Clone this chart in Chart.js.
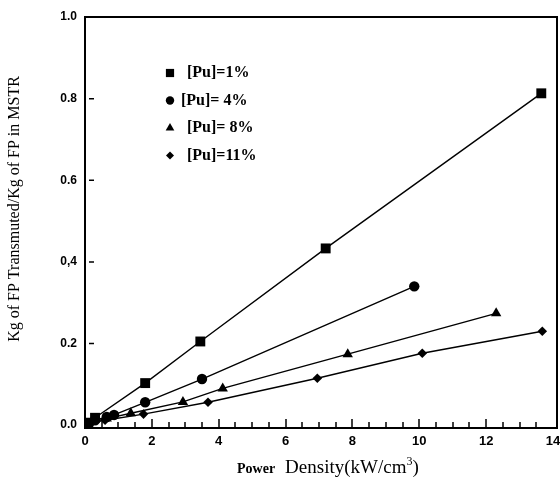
<!DOCTYPE html>
<html>
<head>
<meta charset="utf-8">
<script src="https://cdn.jsdelivr.net/npm/chart.js@4.4.1/dist/chart.umd.min.js"></script>
<style>
  html, body { margin: 0; padding: 0; background: #fff; }
  #wrap { width: 560px; height: 481px; }
</style>
</head>
<body>
<div id="wrap"><canvas id="myChart" width="560" height="481"></canvas></div>
<script>
// Series (x = power density kW/cm3, y = ratio)
const labels = ['[Pu]=1%', '[Pu]= 4%', '[Pu]= 8%', '[Pu]=11%'];
const pu1X = [0.1, 0.3, 1.8, 3.45, 7.2, 13.65];
const pu1Y = [0.006, 0.018, 0.103, 0.205, 0.433, 0.813];
const pu4X = [0.3, 0.65, 0.87, 1.8, 3.5, 9.85];
const pu4Y = [0.012, 0.02, 0.025, 0.056, 0.113, 0.34];
const pu8X = [0.2, 0.65, 1.37, 2.93, 4.12, 7.86, 12.3];
const pu8Y = [0.008, 0.016, 0.029, 0.057, 0.09, 0.174, 0.274];
const pu11X = [0.2, 0.6, 1.75, 3.68, 6.95, 10.09, 13.68];
const pu11Y = [0.006, 0.012, 0.027, 0.056, 0.115, 0.176, 0.23];

// Tick labels
const xTicks = [0, 2, 4, 6, 8, 10, 12, 14];
const yTicks = [0, 0.2, 0.4, 0.6, 0.8, 1.0];
const yTickText = ['0.0', '0.2', '0,4', '0.6', '0.8', '1.0'];

const toPts = (xs, ys) => xs.map((x, i) => ({ x: x, y: ys[i] }));

const styles = ['rect', 'circle', 'triangle', 'rectRot'];
const radii = [7, 5.2, 6, 4.8];
const legendRadii = [5.8, 4.2, 5, 4];

const series = [[pu1X, pu1Y], [pu4X, pu4Y], [pu8X, pu8Y], [pu11X, pu11Y]];

// Frame, inward ticks, legend and axis titles
const extras = {
    id: 'extras',
    afterDraw(chart) {
        const c = chart.ctx;
        const a = chart.chartArea;
        const xs = chart.scales.x;
        const ys = chart.scales.y;
        c.save();
        c.strokeStyle = '#000';
        // top and right frame
        c.lineWidth = 2;
        c.beginPath();
        c.moveTo(a.left, a.top);
        c.lineTo(a.right, a.top);
        c.lineTo(a.right, a.bottom);
        c.stroke();
        // x ticks pointing inward (major every 2, minor every 0.5)
        c.lineWidth = 1.5;
        c.beginPath();
        for (let k = 1; k < 28; k++) {
            const px = Math.round(xs.getPixelForValue(k / 2));
            const len = (k % 4 === 0) ? 8 : 5;
            c.moveTo(px, a.bottom - 1);
            c.lineTo(px, a.bottom - 1 - len);
        }
        c.stroke();
        // y ticks, short dashes inside
        c.beginPath();
        [0.2, 0.4, 0.6, 0.8].forEach(v => {
            const py = ys.getPixelForValue(v);
            c.moveTo(a.left + 4, py);
            c.lineTo(a.left + 9, py);
        });
        c.stroke();

        // legend
        c.fillStyle = '#000';
        c.textBaseline = 'middle';
        c.font = 'bold 16px "Liberation Serif", serif';
        const lx = a.left + 85;
        const ly0 = a.top + 56;
        chart.data.datasets.forEach((ds, i) => {
            const yy = ly0 + i * 27.5;
            Chart.helpers.drawPoint(c, {
                pointStyle: ds.pointStyle, radius: legendRadii[i], borderWidth: 0
            }, lx, yy);
            c.fillText(ds.label, lx + (i === 1 ? 11 : 17), yy);
        });

        // x axis title: "Power Density(kW/cm3)"
        c.textBaseline = 'alphabetic';
        let tx = 237;
        const ty = 473;
        c.font = 'bold 14px "Liberation Serif", serif';
        c.fillText('Power', tx, ty);
        tx += c.measureText('Power').width + 10;
        c.font = '19px "Liberation Serif", serif';
        c.fillText('Density(kW/cm', tx, ty);
        tx += c.measureText('Density(kW/cm').width;
        c.font = '12px "Liberation Serif", serif';
        c.fillText('3', tx, ty - 8);
        tx += c.measureText('3').width;
        c.font = '19px "Liberation Serif", serif';
        c.fillText(')', tx, ty);

        // y axis title
        c.translate(19, 209);
        c.rotate(-Math.PI / 2);
        c.textAlign = 'center';
        c.font = '16px "Liberation Serif", serif';
        c.fillText('Kg of FP Transmuted/Kg of FP in MSTR', 0, 0);
        c.restore();
    }
};

const ctx = document.getElementById('myChart').getContext('2d');

new Chart(ctx, {
    type: 'scatter',
    data: {
        datasets: series.map((s, i) => ({
            label: labels[i],
            data: toPts(s[0], s[1]),
            showLine: true,
            borderColor: '#000',
            borderWidth: 1.4,
            backgroundColor: '#000',
            pointBackgroundColor: '#000',
            pointBorderWidth: 0,
            pointStyle: styles[i],
            pointRadius: radii[i],
            tension: 0
        }))
    },
    options: {
        responsive: false,
        animation: false,
        layout: { autoPadding: false, padding: { top: 17, right: 3, left: 0, bottom: 0 } },
        plugins: {
            legend: { display: false },
            tooltip: { enabled: false }
        },
        scales: {
            x: {
                type: 'linear',
                min: 0,
                max: 14.12,
                afterBuildTicks: s => { s.ticks = xTicks.map(v => ({ value: v })); },
                afterFit: s => { s.height = 53; s.paddingLeft = 0; s.paddingRight = 0; },
                grid: { display: false, drawTicks: false },
                border: { display: true, color: '#000', width: 2 },
                ticks: {
                    color: '#000',
                    padding: 6,
                    maxRotation: 0,
                    font: { family: '"Liberation Sans", Arial, sans-serif', size: 13, weight: 'bold' }
                }
            },
            y: {
                type: 'linear',
                min: -0.007,
                max: 1.0,
                afterBuildTicks: s => { s.ticks = yTicks.map(v => ({ value: v })); },
                afterFit: s => { s.width = 85; s.paddingTop = 0; s.paddingBottom = 0; },
                grid: { display: false, drawTicks: false },
                border: { display: true, color: '#000', width: 2 },
                ticks: {
                    color: '#000',
                    padding: 8,
                    font: { family: '"Liberation Sans", Arial, sans-serif', size: 12, weight: 'bold' },
                    callback: function (v) {
                        const k = yTicks.indexOf(v);
                        return k >= 0 ? yTickText[k] : '';
                    }
                }
            }
        }
    },
    plugins: [extras]
});
</script>
</body>
</html>
